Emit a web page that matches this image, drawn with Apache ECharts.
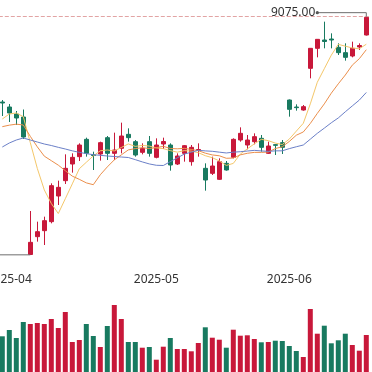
<!DOCTYPE html>
<html><head><meta charset="utf-8">
<script src="https://cdn.jsdelivr.net/npm/echarts@6/dist/echarts.min.js"></script>
<style>html,body{margin:0;padding:0;background:#fff}#c{width:372px;height:372px}</style>
</head><body><div id="c"></div>
<script>
const dates = ['2025-03-31','2025-04-01','2025-04-02','2025-04-03','2025-04-07','2025-04-08','2025-04-09','2025-04-10','2025-04-11','2025-04-14','2025-04-15','2025-04-16','2025-04-17','2025-04-18','2025-04-21','2025-04-22','2025-04-23','2025-04-24','2025-04-25','2025-04-28','2025-04-29','2025-04-30','2025-05-06','2025-05-07','2025-05-08','2025-05-09','2025-05-12','2025-05-13','2025-05-14','2025-05-15','2025-05-16','2025-05-19','2025-05-20','2025-05-21','2025-05-22','2025-05-23','2025-05-26','2025-05-27','2025-05-28','2025-05-29','2025-05-30','2025-06-03','2025-06-04','2025-06-05','2025-06-06','2025-06-09','2025-06-10','2025-06-11','2025-06-12','2025-06-13','2025-06-16','2025-06-17','2025-06-18'];
const opens  = [8563,8533,8491,8473,7648,7755,7791,7845,7999,8091,8191,8235,8339,8248,8251,8349,8255,8285,8369,8325,8261,8325,8231,8311,8305,8191,8255,8205,8272,8165,8135,8099,8195,8231,8335,8305,8325,8345,8255,8307,8319,8575,8533,8515,8765,8885,8935,8941,8891,8859,8839,8893,8965];
const closes = [8557,8497,8467,8353,7721,7785,7851,8061,8051,8165,8231,8305,8255,8242,8319,8255,8275,8359,8349,8245,8285,8255,8305,8326,8185,8239,8301,8291,8278,8095,8179,8205,8155,8339,8375,8335,8355,8291,8299,8303,8291,8519,8529,8535,8885,8939,8926,8935,8859,8831,8885,8902,9071];
const lows   = [8479,8443,8425,8341,7646,7725,7705,7835,7945,8071,8139,8209,8235,8155,8211,8215,8215,8255,8325,8235,8249,8235,8225,8281,8151,8185,8205,8181,8235,8031,8125,8095,8151,8225,8325,8279,8309,8265,8251,8245,8251,8475,8511,8511,8705,8831,8885,8885,8845,8811,8831,8875,8962];
const highs  = [8575,8551,8509,8518,7909,7845,7875,8075,8091,8249,8255,8315,8349,8265,8325,8359,8379,8439,8405,8335,8315,8359,8345,8349,8315,8255,8305,8305,8315,8195,8235,8225,8209,8345,8411,8365,8375,8365,8325,8311,8335,8578,8549,8545,8887,8941,9045,8975,8915,8915,8925,8915,9075];
const volumes = [357,420,340,500,480,490,480,530,440,600,300,320,480,360,250,460,670,530,300,300,243,250,123,253,340,230,230,207,290,447,343,323,243,423,363,367,330,297,300,313,310,260,210,150,630,383,463,287,317,383,270,213,370];
// moving-average values before enough visible history exists
const ma5Head  = [8461,8491,8497,8475];
const ma10Head = [8415,8424,8430,8425,8357,8294,8238,8211,8184];
const ma20Head = [8293,8317,8335,8347,8335,8323,8311,8302,8291,8281,8270,8261,8253,8247,8243,8239,8236,8233,8230];

const UP = '#c8183a', DOWN = '#187a60';
function movingAverage(n, head) {
  return closes.map((c, i) => {
    if (i < n - 1) return head[i];
    let s = 0; for (let j = i - n + 1; j <= i; j++) s += closes[j];
    return +(s / n).toFixed(2);
  });
}
const kData = opens.map((o, i) => [o, closes[i], lows[i], highs[i]]);
const volData = volumes.map((v, i) => ({ value: v, itemStyle: { color: closes[i] >= opens[i] ? UP : DOWN } }));
let maxI = 0, minI = 0;
highs.forEach((h, i) => { if (h > highs[maxI]) maxI = i; });
lows.forEach((l, i) => { if (l < lows[minI]) minI = i; });
const extremes = [[maxI, highs[maxI], 1], [minI, lows[minI], -1]];

const FONT = '12px "Noto Sans", sans-serif';
const chart = echarts.init(document.getElementById('c'), null, { renderer: 'canvas' });
chart.setOption({
  animation: false,
  backgroundColor: '#fff',
  grid: [
    { left: -1.2, width: 371, top: 0, height: 262.5, outerBoundsMode: 'none', containLabel: false },
    { left: -1.2, width: 371, top: 272, height: 100, outerBoundsMode: 'none', containLabel: false }
  ],
  xAxis: [
    { type: 'category', data: dates, gridIndex: 0, boundaryGap: true,
      axisLine: { show: false }, axisTick: { show: false }, splitLine: { show: false },
      axisLabel: { margin: 11, color: '#333', fontSize: 12, fontFamily: 'Noto Sans',
        interval: (i) => i > 0 && dates[i].slice(0, 7) !== dates[i - 1].slice(0, 7),
        formatter: (v) => v.slice(0, 7) } },
    { type: 'category', data: dates, gridIndex: 1, boundaryGap: true, show: false }
  ],
  yAxis: [
    { type: 'value', gridIndex: 0, min: 7600, max: 9175, show: false, splitLine: { show: false } },
    { type: 'value', gridIndex: 1, min: 0, max: 1000, show: false, splitLine: { show: false } }
  ],
  series: [
    { type: 'candlestick', data: kData, xAxisIndex: 0, yAxisIndex: 0, barWidth: 5,
      itemStyle: { color: UP, color0: DOWN, borderColor: UP, borderColor0: DOWN, borderWidth: 1 },
      markLine: { silent: true, symbol: ['none', 'none'], label: { show: false },
        lineStyle: { color: '#e2a4a4', type: [4, 2], width: 1 },
        data: [{ yAxis: highs[maxI] }] } },
    { type: 'line', name: 'MA5', data: movingAverage(5, ma5Head), showSymbol: false, smooth: false,
      lineStyle: { width: 1, color: '#f4c76a' }, z: 3 },
    { type: 'line', name: 'MA10', data: movingAverage(10, ma10Head), showSymbol: false, smooth: false,
      lineStyle: { width: 1, color: '#eb8f4c' }, z: 3 },
    { type: 'line', name: 'MA20', data: movingAverage(20, ma20Head), showSymbol: false, smooth: false,
      lineStyle: { width: 1, color: '#6b80c8' }, z: 3 },
    { type: 'custom', xAxisIndex: 0, yAxisIndex: 0, data: extremes, z: 5, clip: false,
      encode: { x: 0, y: 1 },
      renderItem(params, api) {
        const idx = api.value(0), val = api.value(1), kind = api.value(2);
        const p = api.coord([idx, val]);
        const band = api.size([1, 0])[0];
        const y = p[1] - (kind > 0 ? 4 : 0);
        const x2 = p[0] - 7 * band;
        return { type: 'group', children: [
          { type: 'polyline', shape: { points: [[p[0], p[1]], [p[0], y], [x2, y]] }, style: { stroke: '#6e6e6e', lineWidth: 1, fill: null } },
          { type: 'circle', shape: { cx: x2, cy: y, r: 1.6 }, style: { fill: '#555' } },
          { type: 'text', x: x2 - 2, y: y, style: { text: val.toFixed(2), align: 'right', verticalAlign: 'middle', fill: '#333', font: FONT } }
        ]};
      } },
    { type: 'bar', data: volData, xAxisIndex: 1, yAxisIndex: 1, barWidth: 5 }
  ]
});
</script></body></html>
